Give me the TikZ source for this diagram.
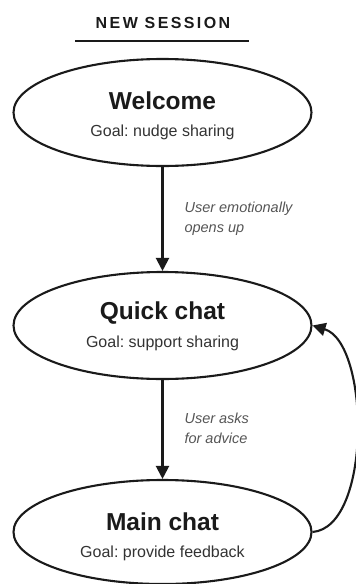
\documentclass[tikz,border=0pt]{standalone}
\usepackage{fontspec}
\setmainfont{Liberation Sans}
\usetikzlibrary{shapes.geometric,arrows.meta}
\definecolor{ink}{HTML}{1A1A1A}
\definecolor{goalgray}{HTML}{333333}
\definecolor{notegray}{HTML}{555555}
\begin{document}
\frenchspacing
\begin{tikzpicture}[x=1pt,y=-1pt,
  state/.style={draw=ink,line width=2.1pt,ellipse,minimum width=298pt,minimum height=107pt,inner sep=0pt},
  statename/.style={anchor=base,text=ink,font=\fontsize{24.5}{28}\selectfont\bfseries},
  goal/.style={anchor=base,text=goalgray,font=\fontsize{16}{18}\selectfont},
  note/.style={anchor=base west,text=notegray,font=\fontsize{14.5}{17}\selectfont\itshape},
  arr/.style={draw=ink,line width=2.1pt,-{Triangle[length=13pt,width=13pt]}},
]
\useasboundingbox (0,0) rectangle (356,584);

% heading
\node[anchor=base,text=ink,font=\fontsize{16}{18}\selectfont\bfseries\addfontfeature{LetterSpace=15}] (title) at (163,28) {NEW SESSION};
\coordinate (ruleL) at (75,41);
\coordinate (ruleR) at (249,41);
\draw[ink,line width=1.5pt] (ruleL) -- (ruleR);

% states
\node[state] (welcome) at (162.5,112.5) {};
\node[statename] (welcomeT) at (162.5,109) {Welcome};
\node[goal] (welcomeG) at (162.5,136.5) {Goal: nudge sharing};

\node[state] (quick) at (162.5,325.5) {};
\node[statename] (quickT) at (162.5,319.5) {Quick chat};
\node[goal] (quickG) at (162.5,347.5) {Goal: support sharing};

\node[state,minimum height=104pt] (main) at (162.5,532) {};
\node[statename] (mainT) at (162.5,530) {Main chat};
\node[goal] (mainG) at (162.5,557.5) {Goal: provide feedback};

% transitions
\draw[arr] (welcome.south) -- (quick.north);
\node[note] (note1a) at (181,212) {User emotionally};
\node[note] (note1b) at (181,232) {opens up};

\draw[arr] (quick.south) -- (main.north);
\node[note] (note2a) at (181,423) {User asks};
\node[note] (note2b) at (181,443) {for advice};

\draw[arr] (main.east) .. controls (372,527) and (370,343) .. (quick.east);
\end{tikzpicture}
\end{document}
